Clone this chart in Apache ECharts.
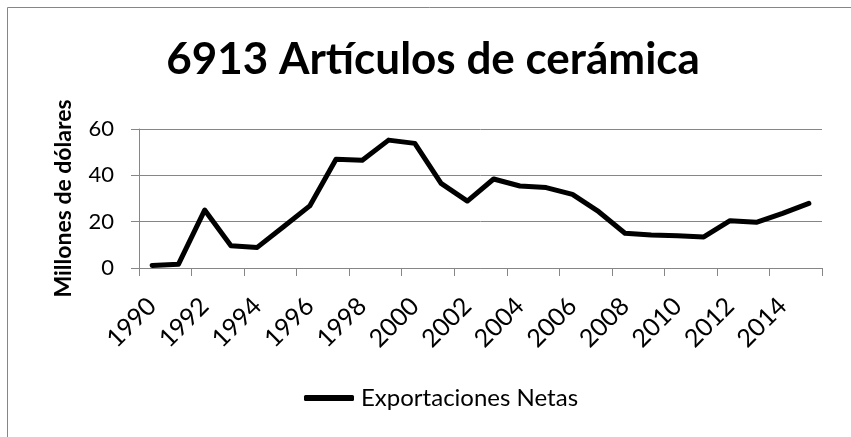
<!DOCTYPE html>
<html>
<head>
<meta charset="utf-8">
<script src="https://cdn.jsdelivr.net/npm/echarts@6/dist/echarts.min.js"></script>
<style>
    html, body {margin: 0; padding: 0; background: #fff;}
    #chart {width: 851px; height: 437px;}
</style>
</head>
<body>
<div id="chart"></div>
<script>
// datos del gráfico
var years = ['1990', '1991', '1992', '1993', '1994', '1995', '1996', '1997', '1998', '1999',
    '2000', '2001', '2002', '2003', '2004', '2005', '2006', '2007', '2008', '2009',
    '2010', '2011', '2012', '2013', '2014', '2015'];
var exportaciones = [1.1, 1.6, 25.0, 9.6, 8.9, 17.8, 26.8, 46.9, 46.5, 55.2,
    53.8, 36.5, 28.9, 38.4, 35.4, 34.7, 31.8, 24.3, 15.0, 14.2,
    13.9, 13.4, 20.4, 19.7, 23.6, 27.9];
var yTicks = [0, 20, 40, 60];

var gris = '#868686';
var fuente = 'Lato';

var chart = echarts.init(document.getElementById('chart'));
var option = {
    animation: false,
    title: {
        text: '6913 Artículos de cerámica',
        left: 433,
        top: 38,
        padding: 0,
        textAlign: 'center',
        textStyle: {
            fontFamily: fuente,
            fontSize: 44,
            fontWeight: 'bold',
            color: '#000'
        }
    },
    graphic: [{
        type: 'rect',
        shape: {x: 7.5, y: 7.5, width: 900, height: 500},
        style: {fill: null, stroke: gris, lineWidth: 1},
        silent: true
    }],
    legend: {
        left: 299,
        top: 381,
        icon: 'roundRect',
        itemWidth: 50,
        itemHeight: 6,
        itemGap: 8,
        data: ['Exportaciones Netas'],
        itemStyle: {color: '#000'},
        textStyle: {
            fontFamily: fuente,
            fontSize: 24,
            color: '#000',
            padding: [0, 0, 0, 2]
        }
    },
    grid: {
        left: 139,
        right: 29,
        top: 129,
        bottom: 169
    },
    xAxis: {
        type: 'category',
        data: years,
        boundaryGap: true,
        axisLine: {lineStyle: {color: gris, width: 1}},
        axisTick: {show: true, length: 8, lineStyle: {color: gris}},
        axisLabel: {
            interval: 1,
            rotate: 45,
            margin: 34,
            fontFamily: fuente,
            fontSize: 25,
            color: '#000'
        }
    },
    yAxis: {
        type: 'value',
        min: yTicks[0],
        max: yTicks[yTicks.length - 1],
        interval: 20,
        name: 'Millones de dólares',
        nameLocation: 'middle',
        nameGap: 64,
        nameTextStyle: {
            fontFamily: fuente,
            fontSize: 23,
            fontWeight: 'bold',
            color: '#000'
        },
        axisLine: {show: true, lineStyle: {color: gris, width: 1}},
        axisTick: {show: true, length: 8, lineStyle: {color: gris}},
        splitLine: {lineStyle: {color: gris, width: 1}},
        axisLabel: {
            margin: 25,
            fontFamily: fuente,
            fontSize: 22,
            color: '#000'
        }
    },
    series: [{
        name: 'Exportaciones Netas',
        type: 'line',
        data: exportaciones,
        symbol: 'none',
        lineStyle: {color: '#000', width: 5, cap: 'round', join: 'round'},
        itemStyle: {color: '#000'}
    }]
};
chart.setOption(option);
</script>
</body>
</html>
